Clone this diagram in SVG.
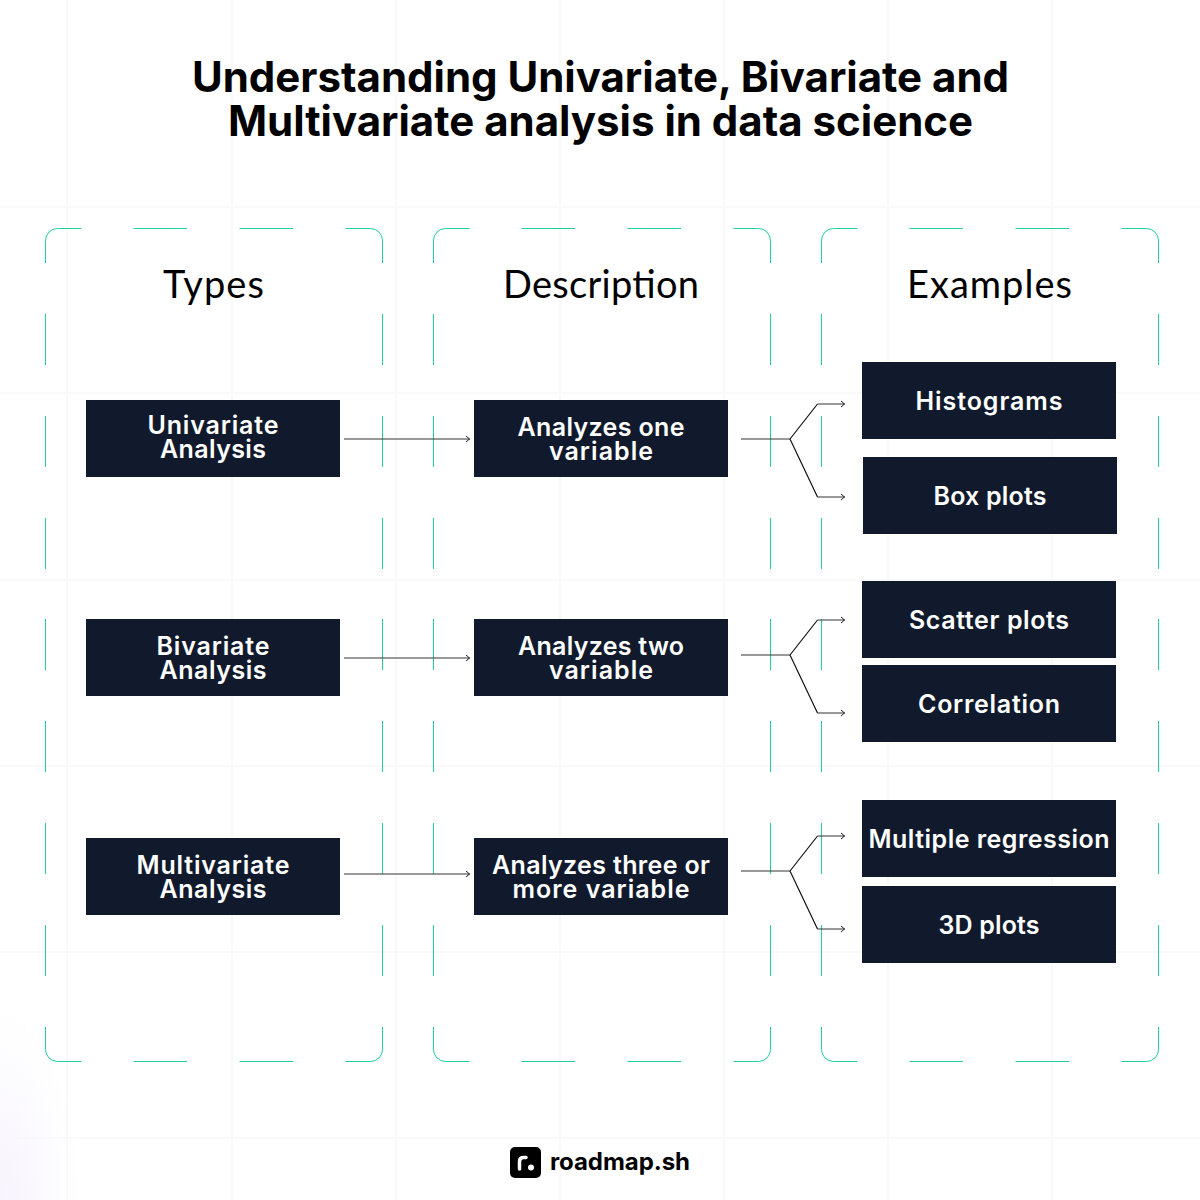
<svg xmlns="http://www.w3.org/2000/svg" xmlns:xlink="http://www.w3.org/1999/xlink" width="1200" height="1200" viewBox="0 0 1200 1200">
<style>
.grid{stroke:#f8f8f9;stroke-width:1.5;fill:none}
.frame{stroke:#1fd19a;stroke-width:1;fill:none}
.box{fill:#111a2c}
.t{font-family:Inter,"Liberation Sans",sans-serif;font-weight:600;font-size:25px;fill:#fff;text-anchor:middle}
.h{font-family:Lato,"Liberation Sans",sans-serif;font-weight:400;font-size:38px;fill:#000;text-anchor:middle}
.title{font-family:Inter,"Liberation Sans",sans-serif;font-weight:700;font-size:42px;fill:#000;text-anchor:middle}
.c{stroke:#333;stroke-width:1;fill:none}
.b{stroke:#111;stroke-width:1.2;fill:none}
</style>
<defs>
<radialGradient id="glow"><stop offset="0" stop-color="#f7f4fd"/><stop offset="1" stop-color="#fff"/></radialGradient>
<marker id="arrow" viewBox="0 0 6 8" refX="5" refY="4" markerWidth="6" markerHeight="8" markerUnits="userSpaceOnUse" orient="auto"><path d="M1 1L4.500 4L1 7" fill="none" stroke="#222" stroke-width="1"/></marker>
<g id="frameShape">
<path d="M0.500 35V12.500A12 12 0 0 1 12.500 0.500H36.500M88.500 0.500H142M194.500 0.500H248M300.500 0.500H325.500A12 12 0 0 1 337.500 12.500V35"/>
<path d="M0.500 86V137M337.500 86V137M0.500 188V239M337.500 188V239M0.500 290V341M337.500 290V341M0.500 391V442M337.500 391V442M0.500 493V544M337.500 493V544M0.500 595V646M337.500 595V646M0.500 697V748M337.500 697V748"/>
<path d="M0.500 799V821.500A12 12 0 0 0 12.500 833.500H36.500M88.500 833.500H142M194.500 833.500H248M300.500 833.500H325.500A12 12 0 0 0 337.500 821.500V799"/>
</g>
</defs>
<rect width="1200" height="1200" fill="#fff"/>
<ellipse cx="0" cy="1200" rx="80" ry="190" fill="url(#glow)"/>
<g id="grid" class="grid">
<path d="M67 0V1200M232 0V1200M396 0V1200M560 0V1200M724 0V1200M888 0V1200M1052 0V1200"/>
<path d="M0 207H1200M0 393H1200M0 580H1200M0 766H1200M0 952H1200M0 1138H1200"/>
</g>
<g id="title"><text class="title" x="600.500" y="92" textLength="817">Understanding Univariate, Bivariate and</text><text class="title" x="600.500" y="136" textLength="745">Multivariate analysis in data science</text></g>
<g id="col-types" class="frame"><use xlink:href="#frameShape" href="#frameShape" x="45" y="228"/></g>
<g id="col-description" class="frame"><use xlink:href="#frameShape" href="#frameShape" x="433" y="228"/></g>
<g id="col-examples" class="frame"><use xlink:href="#frameShape" href="#frameShape" x="821" y="228"/></g>
<g id="head-types"><text class="h" x="213.500" y="298" textLength="101">Types</text></g>
<g id="head-description"><text class="h" x="601" y="298" textLength="196">Description</text></g>
<g id="head-examples"><text class="h" x="989.500" y="298" textLength="165">Examples</text></g>
<g id="connectors">
<path class="c" marker-end="url(#arrow)" d="M344 439H470"/>
<path class="c" marker-end="url(#arrow)" d="M344 658H470"/>
<path class="c" marker-end="url(#arrow)" d="M344 874H470"/>
<g id="fork-1"><path class="c" d="M741 439H790"/><path class="b" d="M790 439L817.500 404M790 439L817.500 497"/><path class="c" marker-end="url(#arrow)" d="M817.500 404H845"/><path class="c" marker-end="url(#arrow)" d="M817.500 497H845"/></g>
<g id="fork-2"><path class="c" d="M741 655H790"/><path class="b" d="M790 655L817.500 620M790 655L817.500 713"/><path class="c" marker-end="url(#arrow)" d="M817.500 620H845"/><path class="c" marker-end="url(#arrow)" d="M817.500 713H845"/></g>
<g id="fork-3"><path class="c" d="M741 871H790"/><path class="b" d="M790 871L817.500 836M790 871L817.500 929"/><path class="c" marker-end="url(#arrow)" d="M817.500 836H845"/><path class="c" marker-end="url(#arrow)" d="M817.500 929H845"/></g>
</g>
<g id="n-univariate"><rect class="box" x="86" y="400" width="254" height="77"/><text class="t" x="213" y="434" textLength="131">Univariate</text><text class="t" x="213" y="458" textLength="106">Analysis</text></g>
<g id="n-bivariate"><rect class="box" x="86" y="619" width="254" height="77"/><text class="t" x="213" y="655" textLength="113">Bivariate</text><text class="t" x="213" y="679" textLength="107">Analysis</text></g>
<g id="n-multivariate"><rect class="box" x="86" y="838" width="254" height="77"/><text class="t" x="213" y="874" textLength="153">Multivariate</text><text class="t" x="213" y="898" textLength="107">Analysis</text></g>
<g id="n-one"><rect class="box" x="474" y="400" width="254" height="77"/><text class="t" x="601" y="436" textLength="167">Analyzes one</text><text class="t" x="601" y="460" textLength="104">variable</text></g>
<g id="n-two"><rect class="box" x="474" y="619" width="254" height="77"/><text class="t" x="601" y="655" textLength="166">Analyzes two</text><text class="t" x="601" y="679" textLength="104">variable</text></g>
<g id="n-three"><rect class="box" x="474" y="838" width="254" height="77"/><text class="t" x="601" y="874" textLength="218">Analyzes three or</text><text class="t" x="601" y="898" textLength="177">more variable</text></g>
<g id="n-histograms"><rect class="box" x="862" y="362" width="254" height="77"/><text class="t" x="989" y="410" textLength="147">Histograms</text></g>
<g id="n-boxplots"><rect class="box" x="863" y="457" width="254" height="77"/><text class="t" x="990" y="505" textLength="113">Box plots</text></g>
<g id="n-scatter"><rect class="box" x="862" y="581" width="254" height="77"/><text class="t" x="989" y="629" textLength="160">Scatter plots</text></g>
<g id="n-correlation"><rect class="box" x="862" y="665" width="254" height="77"/><text class="t" x="989" y="713" textLength="142">Correlation</text></g>
<g id="n-regression"><rect class="box" x="862" y="800" width="254" height="77"/><text class="t" x="989" y="848" textLength="241">Multiple regression</text></g>
<g id="n-3d"><rect class="box" x="862" y="886" width="254" height="77"/><text class="t" x="989" y="934" textLength="101">3D plots</text></g>
<g id="logo"><rect x="510" y="1147" width="31" height="31" rx="5" fill="#000"/><path d="M519.500 1169V1161.500Q519.500 1157.500 523.500 1157.500H526" fill="none" stroke="#fff" stroke-width="3.500" stroke-linecap="round"/><circle cx="531" cy="1167.500" r="3" fill="#fff"/><text x="550" y="1170" font-family="Inter,'Liberation Sans',sans-serif" font-weight="700" font-size="24" fill="#000" textLength="140">roadmap.sh</text></g>
</svg>
